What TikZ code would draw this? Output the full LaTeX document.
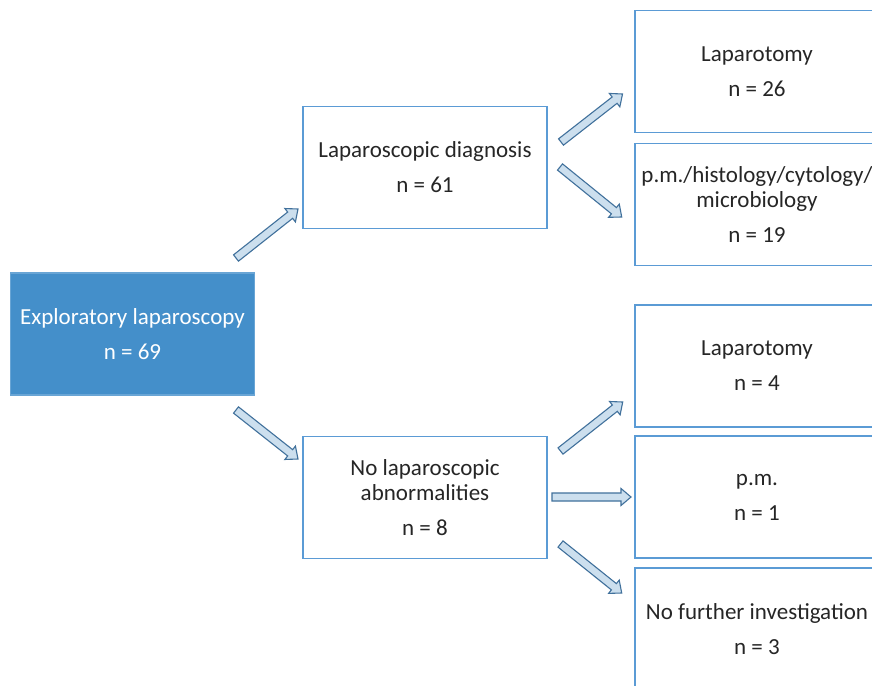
\documentclass[tikz,border=0pt]{standalone}
\usepackage{fontspec}
\setmainfont{Carlito}
\usetikzlibrary{calc}
\definecolor{boxline}{RGB}{91,155,213}
\definecolor{mainfill}{RGB}{68,143,202}
\definecolor{arrfill}{RGB}{204,223,238}
\definecolor{arrline}{RGB}{65,113,156}
\newcommand\blockarrow[2]{%
  \draw[barrow] let \p1=($(#2)-(#1)$), \n1={atan2(\y1,\x1)} in
    ($(#1)+(\n1+90:4pt)$) -- ($(#2)+(\n1+180:10pt)+(\n1+90:4pt)$)
    -- ($(#2)+(\n1+180:10pt)+(\n1+90:8.5pt)$) -- (#2)
    -- ($(#2)+(\n1+180:10pt)+(\n1-90:8.5pt)$)
    -- ($(#2)+(\n1+180:10pt)+(\n1-90:4pt)$)
    -- ($(#1)+(\n1-90:4pt)$) -- cycle;}
\begin{document}
\begin{tikzpicture}[x=1pt,y=-1pt,
  box/.style={draw=boxline, line width=1.4pt, fill=white, inner sep=0pt,
    minimum width=244pt, minimum height=122pt, align=center,
    font=\fontsize{23}{25}\selectfont, text=black!85},
  mainbox/.style={box, fill=mainfill, draw=mainfill!80!white, text=white},
  barrow/.style={draw=arrline, fill=arrfill, line width=1.1pt, line join=miter}]
\useasboundingbox (0,0) rectangle (872,685);
\clip (0,0) rectangle (872,685);
\fill[white] (0,0) rectangle (872,685);
\node[mainbox] (expl) at (132.5,333.8) {Exploratory laparoscopy\\[10pt]n = 69};
\node[box] (diag) at (425,167.5) {Laparoscopic diagnosis\\[10pt]n = 61};
\node[box] (nolap) at (425,497.5) {No laparoscopic\\abnormalities\\[10pt]n = 8};
\node[box] (lap1) at (757,71.7) {Laparotomy\\[10pt]n = 26};
\node[box] (hist) at (757,204.2) {p.m./histology/cytology/\\microbiology\\[10pt]n = 19};
\node[box] (lap2) at (757,365.8) {Laparotomy\\[10pt]n = 4};
\node[box] (pm) at (757,497) {p.m.\\[10pt]n = 1};
\node[box] (nofur) at (757,629) {No further investigation\\[10pt]n = 3};
\coordinate (a1s) at (236,258);   \coordinate (a1e) at (298,209);
\coordinate (a2s) at (236,410);   \coordinate (a2e) at (298,459);
\coordinate (a3s) at (561,142);   \coordinate (a3e) at (622.5,94);
\coordinate (a4s) at (560,167);   \coordinate (a4e) at (621.7,217);
\coordinate (a5s) at (560.5,451); \coordinate (a5e) at (622.7,402);
\coordinate (a6s) at (552,497);   \coordinate (a6e) at (631,497);
\coordinate (a7s) at (560.5,544); \coordinate (a7e) at (621.7,593);
\blockarrow{a1s}{a1e}
\blockarrow{a2s}{a2e}
\blockarrow{a3s}{a3e}
\blockarrow{a4s}{a4e}
\blockarrow{a5s}{a5e}
\blockarrow{a6s}{a6e}
\blockarrow{a7s}{a7e}
\end{tikzpicture}
\end{document}
